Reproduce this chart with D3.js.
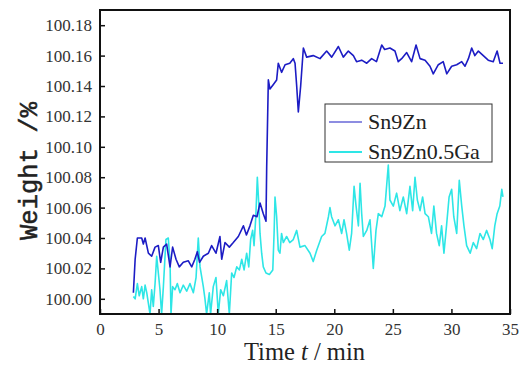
<!DOCTYPE html>
<html>
<head>
<meta charset="utf-8">
<script src="https://cdn.jsdelivr.net/npm/d3@7"></script>
<style>
  body { margin: 0; background: #fff; }
  svg { display: block; }
</style>
</head>
<body>
<svg id="chart" width="524" height="366"></svg>
<script>
// series: time (min) and weight (%)
const sn9ZnTime = [2.85, 3.0, 3.19, 3.56, 3.7, 3.85, 4.13, 4.41, 4.7, 4.98, 5.18, 5.41, 5.69, 5.98, 6.2, 6.49, 6.77, 7.11, 7.54, 7.83, 8.1, 8.31, 8.5, 8.82, 9.25, 9.53, 9.9, 10.24, 10.39, 10.67, 11.04, 11.38, 11.81, 12.24, 12.5, 12.8, 13.09, 13.4, 13.66, 13.94, 14.17, 14.23, 14.37, 14.51, 14.8, 15.08, 15.22, 15.5, 15.8, 16.2, 16.5, 16.65, 16.79, 16.93, 17.13, 17.36, 17.64, 18.2, 18.78, 19.35, 19.78, 20.35, 20.77, 21.2, 21.63, 21.9, 22.34, 22.77, 23.19, 23.6, 24.05, 24.3, 24.75, 25.18, 25.46, 25.75, 26.18, 26.6, 26.98, 27.32, 27.75, 28.17, 28.45, 28.88, 29.3, 29.6, 30.02, 30.45, 30.88, 31.16, 31.45, 31.73, 32.0, 32.3, 32.72, 33.14, 33.57, 33.9, 34.15, 34.4];
const sn9ZnWeight = [100.004, 100.026, 100.040, 100.040, 100.036, 100.040, 100.030, 100.028, 100.034, 100.035, 100.024, 100.034, 100.036, 100.021, 100.034, 100.026, 100.021, 100.024, 100.025, 100.021, 100.026, 100.031, 100.024, 100.028, 100.030, 100.035, 100.030, 100.041, 100.026, 100.037, 100.034, 100.037, 100.041, 100.048, 100.042, 100.048, 100.055, 100.054, 100.063, 100.056, 100.051, 100.087, 100.144, 100.138, 100.141, 100.144, 100.155, 100.149, 100.154, 100.155, 100.158, 100.155, 100.140, 100.123, 100.140, 100.165, 100.159, 100.160, 100.158, 100.163, 100.159, 100.166, 100.159, 100.163, 100.160, 100.156, 100.157, 100.155, 100.158, 100.156, 100.167, 100.164, 100.165, 100.163, 100.156, 100.158, 100.162, 100.156, 100.167, 100.158, 100.157, 100.153, 100.148, 100.154, 100.156, 100.148, 100.153, 100.154, 100.156, 100.153, 100.158, 100.165, 100.160, 100.163, 100.160, 100.157, 100.156, 100.163, 100.155, 100.155];

const gaTime = [2.85, 3.0, 3.19, 3.35, 3.56, 3.7, 3.85, 3.99, 4.27, 4.41, 4.55, 4.7, 4.84, 4.98, 5.12, 5.26, 5.41, 5.63, 5.83, 5.98, 6.06, 6.2, 6.4, 6.6, 6.83, 7.11, 7.4, 7.68, 7.97, 8.2, 8.39, 8.54, 8.82, 8.96, 9.1, 9.33, 9.44, 9.67, 9.9, 10.1, 10.3, 10.53, 10.81, 11.04, 11.24, 11.44, 11.67, 11.9, 12.1, 12.3, 12.52, 12.7, 12.86, 13.03, 13.15, 13.3, 13.43, 13.55, 13.66, 13.8, 13.94, 14.17, 14.46, 14.75, 14.86, 14.94, 15.08, 15.22, 15.36, 15.5, 15.65, 15.93, 16.2, 16.5, 16.79, 17.07, 17.5, 17.93, 18.2, 18.5, 18.92, 19.2, 19.5, 19.63, 19.77, 20.06, 20.35, 20.63, 20.83, 21.05, 21.28, 21.48, 21.69, 21.86, 22.06, 22.2, 22.34, 22.48, 22.77, 23.05, 23.33, 23.56, 23.76, 24.05, 24.33, 24.61, 24.75, 25.04, 25.32, 25.6, 25.89, 26.18, 26.46, 26.69, 26.89, 27.09, 27.32, 27.54, 27.75, 28.03, 28.3, 28.5, 28.73, 28.96, 29.16, 29.36, 29.58, 29.8, 30.02, 30.2, 30.45, 30.67, 30.88, 31.07, 31.3, 31.6, 31.87, 32.15, 32.44, 32.72, 33.0, 33.29, 33.48, 33.7, 33.9, 34.13, 34.3, 34.4];
const gaWeight = [100.0015, 100.000, 100.010, 100.002, 100.008, 100.000, 100.009, 100.004, 99.990, 100.006, 99.995, 100.010, 100.028, 100.017, 100.006, 99.990, 100.008, 100.039, 100.040, 100.024, 99.990, 100.008, 100.006, 100.010, 100.004, 100.009, 100.005, 100.010, 100.004, 100.014, 100.040, 100.021, 100.008, 100.000, 99.990, 100.004, 99.990, 100.008, 100.014, 99.990, 100.006, 100.002, 100.012, 99.990, 100.017, 100.014, 100.021, 100.019, 100.026, 100.019, 100.030, 100.021, 100.039, 100.045, 100.035, 100.054, 100.080, 100.063, 100.043, 100.030, 100.021, 100.017, 100.016, 100.019, 100.043, 100.067, 100.054, 100.032, 100.030, 100.043, 100.037, 100.041, 100.037, 100.039, 100.045, 100.034, 100.035, 100.030, 100.0245, 100.032, 100.041, 100.043, 100.054, 100.060, 100.054, 100.048, 100.052, 100.043, 100.052, 100.043, 100.032, 100.043, 100.074, 100.061, 100.048, 100.076, 100.056, 100.041, 100.045, 100.052, 100.020, 100.045, 100.056, 100.054, 100.061, 100.088, 100.065, 100.061, 100.0695, 100.058, 100.067, 100.056, 100.074, 100.058, 100.080, 100.065, 100.058, 100.067, 100.056, 100.054, 100.043, 100.061, 100.043, 100.035, 100.048, 100.030, 100.048, 100.067, 100.072, 100.054, 100.043, 100.078, 100.061, 100.048, 100.035, 100.030, 100.037, 100.033, 100.043, 100.039, 100.045, 100.039, 100.033, 100.048, 100.056, 100.061, 100.072, 100.067];

const xTicks = [0, 5, 10, 15, 20, 25, 30, 35];
const yTicks = [100.00, 100.02, 100.04, 100.06, 100.08, 100.10, 100.12, 100.14, 100.16, 100.18];
const seriesNames = ['Sn9Zn', 'Sn9Zn0.5Ga'];

const plotLeft = 100, plotRight = 510, plotTop = 10, plotBottom = 314;
const blue = '#1c1cc4', cyan = '#2ee6e6';
const serif = '"Liberation Serif", "Times New Roman", serif';

const svg = d3.select('#chart');

const x = d3.scaleLinear().domain([0, 35]).range([plotLeft, plotRight]);
const y = d3.scaleLinear().domain([99.99, 100.19]).range([plotBottom, plotTop]);

svg.append('clipPath').attr('id', 'plot')
  .append('rect')
  .attr('x', plotLeft).attr('y', plotTop)
  .attr('width', plotRight - plotLeft).attr('height', plotBottom - plotTop);

const line = d3.line()
  .x(d => x(d[0]))
  .y(d => y(d[1]));

const lines = svg.append('g').attr('clip-path', 'url(#plot)');

lines.append('path')
  .datum(gaTime.map((t, i) => [t, gaWeight[i]]))
  .attr('d', line)
  .attr('fill', 'none')
  .attr('stroke', cyan)
  .attr('stroke-width', 1.6)
  .attr('stroke-linejoin', 'round');

lines.append('path')
  .datum(sn9ZnTime.map((t, i) => [t, sn9ZnWeight[i]]))
  .attr('d', line)
  .attr('fill', 'none')
  .attr('stroke', blue)
  .attr('stroke-width', 1.6)
  .attr('stroke-linejoin', 'round');

// axes with inward ticks
const xAxis = svg.append('g')
  .attr('transform', 'translate(0,' + plotBottom + ')')
  .call(d3.axisBottom(x).tickValues(xTicks).tickSize(-5).tickPadding(9).tickFormat(d3.format('d')));

const yAxis = svg.append('g')
  .attr('transform', 'translate(' + plotLeft + ',0)')
  .call(d3.axisLeft(y).tickValues(yTicks).tickSize(-5).tickPadding(8).tickFormat(d3.format('.2f')));

[xAxis, yAxis].forEach(g => {
  g.attr('font-family', serif).attr('font-size', 17);
  g.select('.domain').remove();
  g.selectAll('.tick line').attr('stroke', '#111').attr('stroke-width', 1.5);
  g.selectAll('.tick text').attr('fill', '#333');
});

// frame
svg.append('rect')
  .attr('x', plotLeft).attr('y', plotTop)
  .attr('width', plotRight - plotLeft).attr('height', plotBottom - plotTop)
  .attr('fill', 'none')
  .attr('stroke', '#111')
  .attr('stroke-width', 2);

// axis titles
const xTitle = svg.append('text')
  .attr('x', 244).attr('y', 360)
  .attr('textLength', 121)
  .attr('lengthAdjust', 'spacingAndGlyphs')
  .attr('fill', '#222')
  .attr('font-family', serif)
  .attr('font-size', 25);
xTitle.append('tspan').text('Time ');
xTitle.append('tspan').attr('font-style', 'italic').text('t');
xTitle.append('tspan').text(' / min');

svg.append('text')
  .attr('transform', 'translate(37,240) rotate(-90)')
  .attr('textLength', 138)
  .attr('lengthAdjust', 'spacingAndGlyphs')
  .attr('fill', '#222')
  .attr('stroke', '#222')
  .attr('stroke-width', 0.5)
  .attr('font-family', '"Liberation Mono", monospace')
  .attr('font-size', 25)
  .text('Weight /%');

// legend
const legend = svg.append('g');
legend.append('rect')
  .attr('x', 325).attr('y', 104)
  .attr('width', 167).attr('height', 58)
  .attr('fill', '#fff')
  .attr('stroke', '#333')
  .attr('stroke-width', 1);

seriesNames.forEach((name, i) => {
  const ly = 122 + i * 30;
  legend.append('line')
    .attr('x1', 329).attr('x2', 362)
    .attr('y1', ly).attr('y2', ly)
    .attr('stroke', i === 0 ? blue : cyan)
    .attr('stroke-width', i === 0 ? 1.2 : 2);
  legend.append('text')
    .attr('x', 368).attr('y', ly + 7)
    .attr('fill', '#222')
    .attr('font-family', serif)
    .attr('font-size', 22)
    .text(name);
});
</script>
</body>
</html>
